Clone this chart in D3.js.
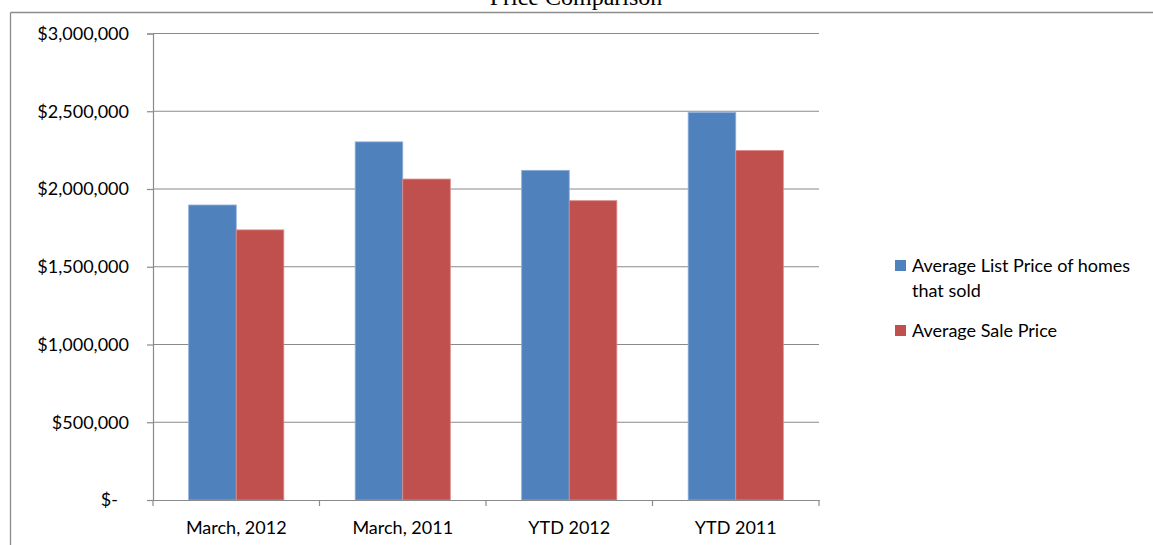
<!DOCTYPE html>
<html><head><meta charset="utf-8">
<script src="https://cdn.jsdelivr.net/npm/d3@7"></script>
<style>body{margin:0;background:#fff}svg{display:block}</style>
</head><body>
<svg id="c" width="1153" height="545"></svg>
<script>
const categories = ["March, 2012", "March, 2011", "YTD 2012", "YTD 2011"];
const seriesNames = ["Average List Price of homes that sold", "Average Sale Price"];
const listPrice = [1897000, 2303000, 2120000, 2492000];
const salePrice = [1737000, 2064000, 1925000, 2248000];
const yTicks = [0, 500000, 1000000, 1500000, 2000000, 2500000, 3000000];
const colors = ["#4F81BD", "#C0504D"];
const title = "Price Comparison";

const svg = d3.select("#c");
const font = "Lato, 'Open Sans', sans-serif";
const fs = 18;
const plot = {l: 153, r: 819, t: 33.5, b: 500};

const x0 = d3.scaleBand().domain(categories).range([plot.l, plot.r]).paddingInner(0).paddingOuter(0);
const x1 = d3.scaleBand().domain([0, 1]).range([0, x0.bandwidth()]).paddingOuter(0.75).paddingInner(0);
const y = d3.scaleLinear().domain([0, 3000000]).range([plot.b, plot.t]);

// frame
svg.append("line").attr("x1", 10.5).attr("x2", 1153).attr("y1", 12.5).attr("y2", 12.5).attr("stroke", "#8c8c8c").attr("stroke-width", 1.3);
svg.append("line").attr("x1", 10.5).attr("x2", 10.5).attr("y1", 12.5).attr("y2", 545).attr("stroke", "#8c8c8c").attr("stroke-width", 1.3);

// title
svg.append("text").attr("x", 576).attr("y", 5).attr("text-anchor", "middle")
  .attr("font-family", "'Liberation Serif', 'Times New Roman', serif").attr("font-size", 24).attr("fill", "#000").text(title);

// gridlines
svg.append("g").selectAll("line").data(yTicks.filter(d => d > 0)).join("line")
  .attr("x1", plot.l).attr("x2", plot.r).attr("y1", d => y(d)).attr("y2", d => y(d))
  .attr("stroke", "#8a8a8a").attr("stroke-width", 1.2);

// y axis
const yAxis = d3.axisLeft(y).tickValues(yTicks).tickSize(6).tickPadding(18)
  .tickFormat(d => d === 0 ? "$-" : "$" + d3.format(",")(d));
const gy = svg.append("g").attr("transform", `translate(${plot.l},0)`).call(yAxis);
gy.select(".domain").attr("stroke", "#8a8a8a").attr("stroke-width", 1.2);
gy.selectAll(".tick line").attr("stroke", "#8a8a8a").attr("stroke-width", 1.2);
gy.selectAll(".tick text").attr("font-family", font).attr("font-size", fs).attr("fill", "#000")
  .attr("dx", d => d === 0 ? -11 : 0).attr("dy", "0.32em");

// bars
const groups = svg.append("g").selectAll("g").data(categories).join("g")
  .attr("transform", d => `translate(${x0(d)},0)`);
groups.selectAll("rect").data((d, i) => [listPrice[i], salePrice[i]]).join("rect")
  .attr("x", (d, j) => x1(j)).attr("width", x1.bandwidth())
  .attr("y", d => y(d)).attr("height", d => plot.b - y(d))
  .attr("fill", (d, j) => colors[j])
  .attr("stroke", (d, j) => j === 0 ? "#8eaedb" : "#dc8b89").attr("stroke-width", 0.8);

// x axis
const xAxis = d3.axisBottom(x0).tickSize(0).tickPadding(21);
const gx = svg.append("g").attr("transform", `translate(0,${plot.b})`).call(xAxis);
gx.select(".domain").attr("stroke", "#8a8a8a").attr("stroke-width", 1.2);
gx.selectAll(".tick text").attr("font-family", font).attr("font-size", fs).attr("fill", "#000");
gx.selectAll(".edge").data(d3.range(categories.length + 1)).join("line").attr("class", "edge")
  .attr("x1", i => plot.l + i * x0.step()).attr("x2", i => plot.l + i * x0.step())
  .attr("y1", 0).attr("y2", 6).attr("stroke", "#8a8a8a").attr("stroke-width", 1.2);

// legend
const legend = svg.append("g").attr("transform", "translate(895,0)");
const legendItems = [
  {lines: ["Average List Price of homes", "that sold"], y: 260, c: colors[0]},
  {lines: ["Average Sale Price"], y: 325, c: colors[1]}
];
legendItems.forEach((it, i) => {
  legend.append("rect").attr("x", 0).attr("y", it.y).attr("width", 11).attr("height", 11).attr("fill", it.c);
  const t = legend.append("text").attr("x", 17).attr("y", it.y + 11.5).attr("font-family", font).attr("font-size", fs).attr("fill", "#000");
  it.lines.forEach((l, k) => t.append("tspan").attr("x", 17).attr("dy", k === 0 ? 0 : 25).text(l));
});
</script>
</body></html>
